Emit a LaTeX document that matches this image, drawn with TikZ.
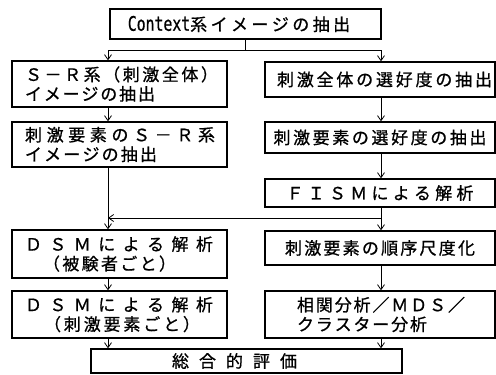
\documentclass[tikz,border=0pt]{standalone}
\usepackage{fontspec}
\usepackage{graphicx}
\newfontfamily\jp[FakeBold=0.8]{Noto Sans CJK JP}
\newfontfamily\monofnt[FakeBold=0.8]{DejaVu Sans Mono}
\usetikzlibrary{arrows.meta,calc}
\def\sprloop#1{\ifx\relax#1\else#1\hfil\expandafter\sprloop\fi}
\newcommand\spreadtext[2]{\makebox[#1][s]{\sprloop#2\relax\unskip}}
\begin{document}
\begin{tikzpicture}[x=1pt,y=-1pt,
  box/.style={draw,line width=1.4pt,inner xsep=0pt,inner ysep=0pt,
    font=\jp\fontsize{17}{19.5}\selectfont},
  leftbox/.style={box,text width=189pt,inner xsep=13pt,align=left},
  rightbox/.style={box,minimum width=230pt,align=center},
  conn/.style={line width=0.8pt,-{Straight Barb[length=5pt,width=7pt]}},
  plain/.style={line width=0.8pt}]
\useasboundingbox (0,0) rectangle (496,375);
\fill[white] (0,0) rectangle (496,375);
% nodes
\node[box,minimum width=271pt,minimum height=30pt] (T) at (245.5,24)
  {\scalebox{0.74}[1]{\monofnt\fontsize{20}{20}\selectfont Context}\spreadtext{160pt}{系イメージの抽出}\hspace*{13pt}};
\node[leftbox,minimum height=46pt] (L1) at (119.5,84)
  {\spreadtext{193pt}{Ｓ－Ｒ系（刺激全体）}\\\spreadtext{130pt}{イメージの抽出}};
\node[leftbox,minimum height=45pt] (L2) at (119.5,144.5)
  {\spreadtext{190pt}{刺激要素のＳ－Ｒ系}\\\spreadtext{132pt}{イメージの抽出}};
\node[leftbox,minimum height=48pt] (L3) at (119.5,254)
  {\spreadtext{188pt}{ＤＳＭによる解析}\\\hspace*{18pt}\spreadtext{133pt}{（被験者ごと）}};
\node[leftbox,minimum height=47pt] (L4) at (119.5,314.5)
  {\spreadtext{188pt}{ＤＳＭによる解析}\\\hspace*{19pt}\spreadtext{156pt}{（刺激要素ごと）}};
\node[rightbox,minimum height=35pt] (R1) at (380,79.5)
  {\hspace*{9pt}\spreadtext{215pt}{刺激全体の選好度の抽出}};
\node[rightbox,minimum height=31pt] (R2) at (380,137.5)
  {\spreadtext{213pt}{刺激要素の選好度の抽出}};
\node[rightbox,minimum height=28pt] (F) at (380,193)
  {\spreadtext{187pt}{ＦＩＳＭによる解析}};
\node[rightbox,minimum height=34pt] (R3) at (380,248)
  {\spreadtext{190pt}{刺激要素の順序尺度化}};
\node[box,text width=166pt,inner xsep=32pt,align=left,minimum height=47pt] (R4) at (380,314.5)
  {\spreadtext{168pt}{相関分析／ＭＤＳ／}\\\spreadtext{130pt}{クラスター分析}};
\node[box,minimum width=311pt,minimum height=24pt] (B) at (246.5,361)
  {\spreadtext{125pt}{総合的評価}\hspace*{24pt}};
% connectors
\coordinate (lx) at (108,0);
\coordinate (rx) at (381,0);
\coordinate (j1) at (245.5,50);
\coordinate (j2) at (381,218);
\draw[plain] (T.south) -- (j1);
\draw[conn] (j1) -| (lx |- L1.north);
\draw[conn] (j1) -| (rx |- R1.north);
\draw[conn] (L1.south -| lx) -- (L2.north -| lx);
\draw[conn] (R1.south -| rx) -- (R2.north -| rx);
\draw[conn] (R2.south -| rx) -- (F.north -| rx);
\draw[conn] (L2.south -| lx) -- (L3.north -| lx);
\draw[conn] (F.south -| rx) -- (R3.north -| rx);
\draw[conn] (j2) -- (lx |- j2);
\draw[conn] (L3.south -| lx) -- (L4.north -| lx);
\draw[conn] (R3.south -| rx) -- (R4.north -| rx);
\draw[conn] (L4.south -| lx) -- (B.north -| lx);
\draw[conn] (R4.south -| rx) -- (B.north -| rx);
\end{tikzpicture}
\end{document}
